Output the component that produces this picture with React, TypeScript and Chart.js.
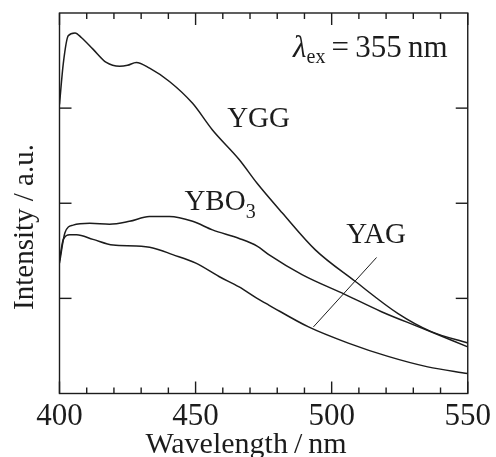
import { useEffect, useRef } from "react";
import { Chart, registerables } from "chart.js";

Chart.register(...registerables);

// ---- data ----
const wavelengthTicks = [400, 450, 500, 550];
const intensityTicks = [1, 2, 3];

const yggWl = [400, 401.4, 403.2, 405.7, 408.1, 412.3, 417.2, 422.1, 425, 428.2, 433.1, 440.4, 448.9, 456.2, 466, 472.6, 481.8, 494, 508.6, 524.4, 536.6, 550];
const yggI = [3.04, 3.47, 3.76, 3.79, 3.74, 3.62, 3.48, 3.44, 3.45, 3.48, 3.42, 3.28, 3.05, 2.77, 2.46, 2.21, 1.9, 1.51, 1.18, 0.84, 0.65, 0.53];

const yboWl = [400, 402, 405, 411.1, 418.4, 425.7, 433, 440.4, 448.9, 456.2, 466, 472.6, 476.9, 489.1, 505, 518.3, 532.9, 550];
const yboI = [1.37, 1.69, 1.77, 1.79, 1.78, 1.81, 1.86, 1.86, 1.81, 1.72, 1.63, 1.55, 1.46, 1.25, 1.04, 0.86, 0.69, 0.49];

const yagWl = [400, 401.4, 403.8, 406.3, 412.3, 419.7, 428.2, 434.3, 441.6, 450.1, 458.6, 466, 472.6, 476.9, 491.5, 506.1, 520.7, 535.3, 550];
const yagI = [1.4, 1.62, 1.67, 1.67, 1.62, 1.56, 1.55, 1.53, 1.46, 1.37, 1.23, 1.12, 1.0, 0.93, 0.7, 0.53, 0.39, 0.28, 0.21];

const FONT = "'Liberation Serif', 'Times New Roman', serif";
const INK = "#1c1c1c";

const toPoints = (xs: number[], ys: number[]) => xs.map((x, i) => ({ x, y: ys[i] }));

export default function App() {
  const ref = useRef<HTMLCanvasElement>(null);

  useEffect(() => {
    if (!ref.current) return;

    const decor = {
      id: "decor",
      afterDraw(chart: any) {
        const { ctx, chartArea: a, scales } = chart;
        const x = scales.x;
        const y = scales.y;
        ctx.save();
        ctx.strokeStyle = INK;
        ctx.lineWidth = 1.4;
        const seg = (x1: number, y1: number, x2: number, y2: number) => {
          ctx.beginPath();
          ctx.moveTo(x1, y1);
          ctx.lineTo(x2, y2);
          ctx.stroke();
        };
        // frame
        ctx.strokeRect(a.left, a.top, a.right - a.left, a.bottom - a.top);
        // x ticks, inward, top and bottom
        for (let v = 400; v <= 550; v += 10) {
          const px = x.getPixelForValue(v);
          const len = wavelengthTicks.includes(v) ? 12 : 6;
          seg(px, a.bottom, px, a.bottom - len);
          seg(px, a.top, px, a.top + len);
        }
        // y ticks, inward, left and right
        for (const v of intensityTicks) {
          const py = y.getPixelForValue(v);
          seg(a.left, py, a.left + 12, py);
          seg(a.right, py, a.right - 12, py);
        }
        // YAG pointer
        ctx.lineWidth = 1;
        seg(x.getPixelForValue(493.3), y.getPixelForValue(0.7), x.getPixelForValue(516.5), y.getPixelForValue(1.43));

        ctx.fillStyle = INK;
        ctx.textBaseline = "alphabetic";
        ctx.textAlign = "left";
        // YGG
        ctx.font = `29px ${FONT}`;
        ctx.fillText("YGG", x.getPixelForValue(461.6), y.getPixelForValue(2.8));
        // YBO3
        let bx = x.getPixelForValue(445.9);
        const by = y.getPixelForValue(1.93);
        ctx.fillText("YBO", bx, by);
        bx += ctx.measureText("YBO").width;
        ctx.font = `20px ${FONT}`;
        ctx.fillText("3", bx, by + 8);
        // YAG
        ctx.font = `29px ${FONT}`;
        ctx.fillText("YAG", x.getPixelForValue(505.4), y.getPixelForValue(1.58));

        // λex = 355 nm (right aligned)
        const rx = x.getPixelForValue(542.6);
        const ry = y.getPixelForValue(3.54);
        const lamFont = `italic 31px ${FONT}`;
        const subFont = `20px ${FONT}`;
        const mainFont = `31px ${FONT}`;
        const rest = "\u2009=\u2009355\u2009nm";
        ctx.font = lamFont;
        const wl = ctx.measureText("\u03bb").width;
        ctx.font = subFont;
        const ws = ctx.measureText("ex").width;
        ctx.font = mainFont;
        const wr = ctx.measureText(rest).width;
        let sx = rx - (wl + ws + wr);
        ctx.font = lamFont;
        ctx.fillText("\u03bb", sx, ry);
        sx += wl;
        ctx.font = subFont;
        ctx.fillText("ex", sx, ry + 6);
        sx += ws;
        ctx.font = mainFont;
        ctx.fillText(rest, sx, ry);

        // x title
        ctx.textAlign = "center";
        ctx.font = `30px ${FONT}`;
        ctx.fillText("Wavelength\u2009/\u2009nm", 246, 453);

        // y title
        ctx.save();
        ctx.translate(33, 227);
        ctx.rotate(-Math.PI / 2);
        ctx.textAlign = "center";
        ctx.font = `29px ${FONT}`;
        ctx.fillText("Intensity / a.u.", 0, 0);
        ctx.restore();

        ctx.restore();
      },
    };

    const line = (xs: number[], ys: number[], label: string) => ({
      label,
      data: toPoints(xs, ys),
      borderColor: INK,
      borderWidth: 1.5,
      pointRadius: 0,
      fill: false,
      cubicInterpolationMode: "monotone" as const,
    });

    const chart = new Chart(ref.current, {
      type: "line",
      data: {
        datasets: [
          line(yggWl, yggI, "YGG"),
          line(yboWl, yboI, "YBO3"),
          line(yagWl, yagI, "YAG"),
        ],
      },
      options: {
        animation: false,
        responsive: false,
        layout: { padding: { top: 13, right: 26, left: 0, bottom: 0 } },
        plugins: { legend: { display: false }, tooltip: { enabled: false } },
        scales: {
          x: {
            type: "linear",
            min: 400,
            max: 550,
            grid: { display: false, drawTicks: false },
            border: { display: false },
            afterBuildTicks: (s: any) => {
              s.ticks = wavelengthTicks.map((v) => ({ value: v }));
            },
            afterFit: (s: any) => {
              s.height = 63.5;
            },
            ticks: {
              color: INK,
              padding: 5,
              maxRotation: 0,
              autoSkip: false,
              font: { family: FONT, size: 31 },
              callback: (v: any) => String(v),
            },
            title: { display: false },
          },
          y: {
            type: "linear",
            min: 0,
            max: 4,
            grid: { display: false, drawTicks: false },
            border: { display: false },
            ticks: { display: false },
            afterFit: (s: any) => {
              s.width = 59.5;
            },
          },
        },
      },
      plugins: [decor],
    });

    return () => chart.destroy();
  }, []);

  return (
    <div style={{ position: "absolute", left: 0, top: 0, width: 496, height: 457, background: "#fff" }}>
      <canvas ref={ref} width={496} height={457} style={{ width: 496, height: 457, display: "block" }} />
    </div>
  );
}
